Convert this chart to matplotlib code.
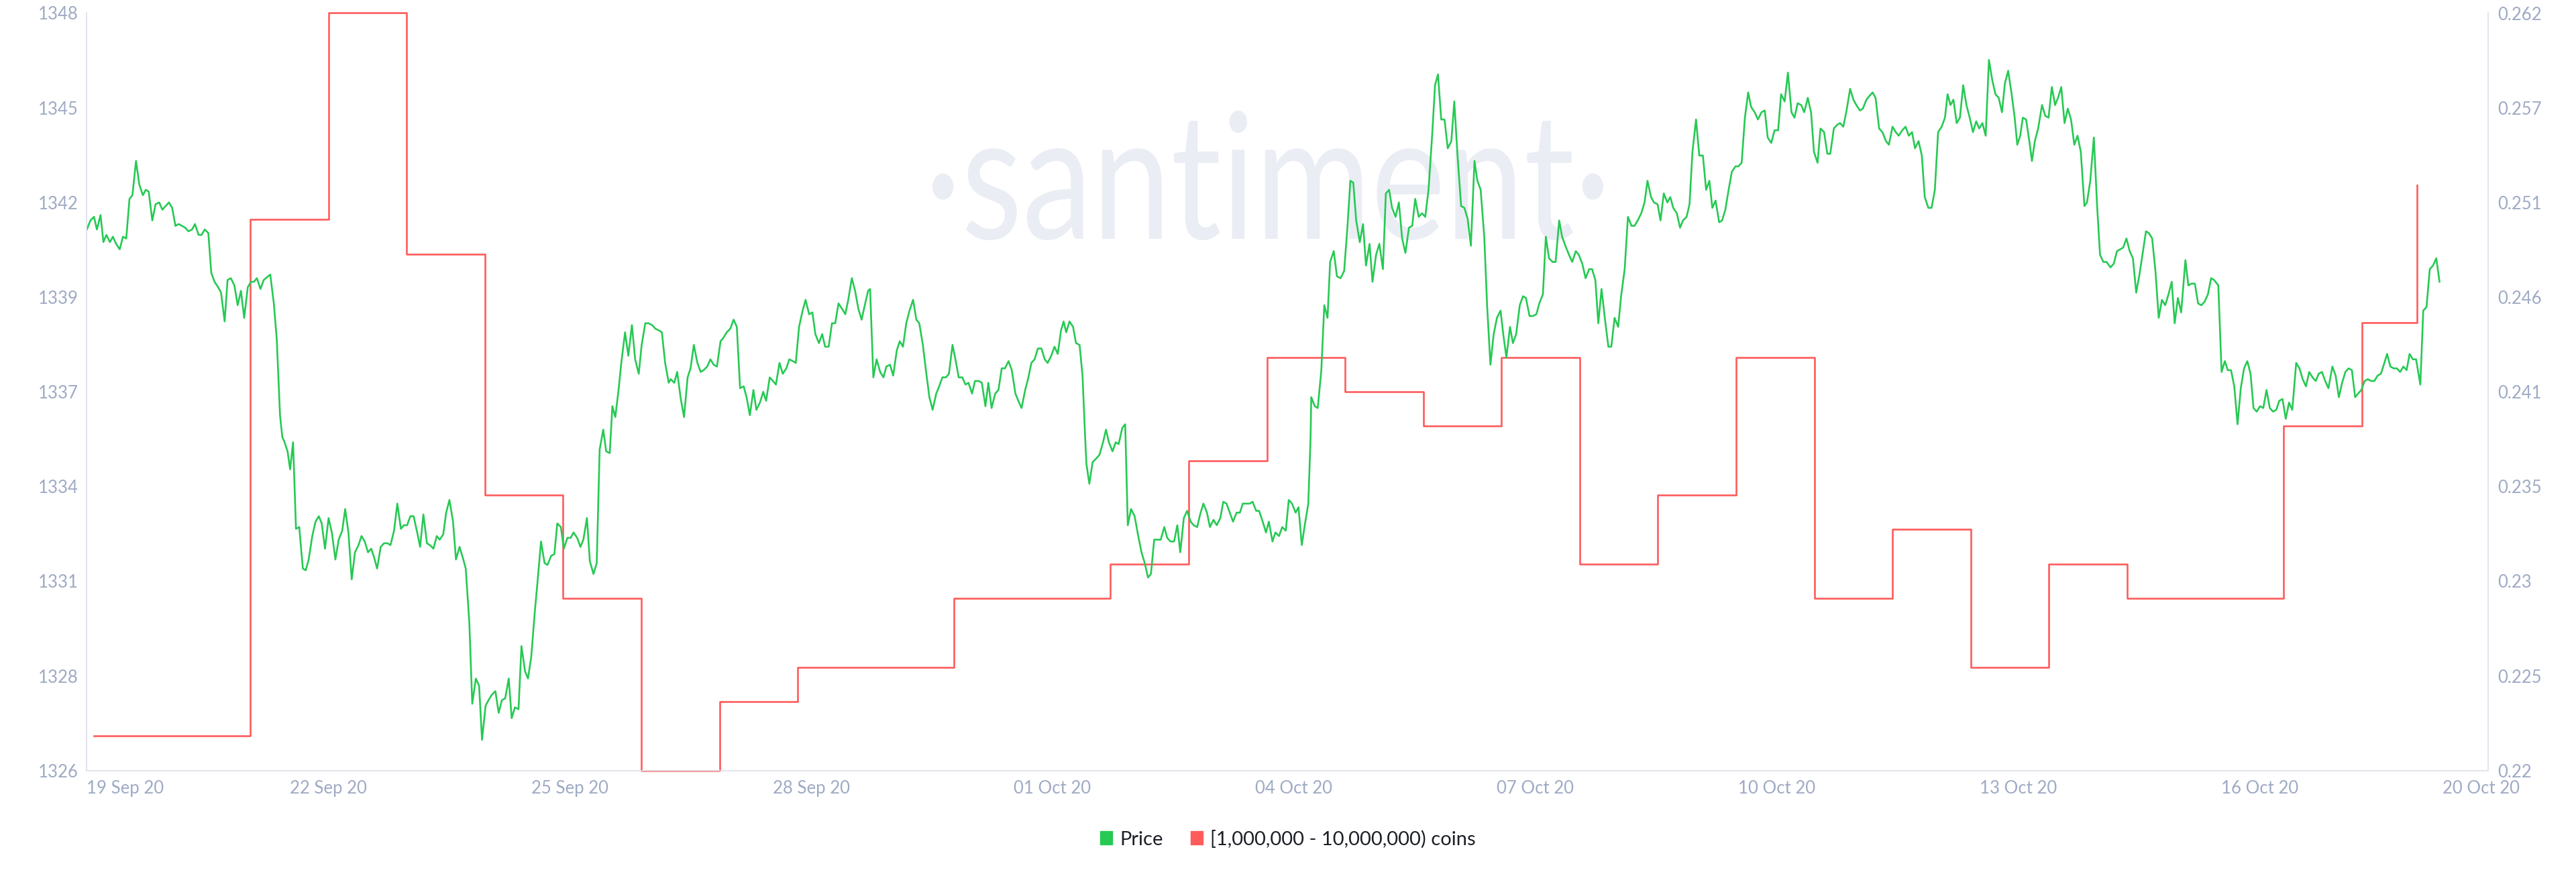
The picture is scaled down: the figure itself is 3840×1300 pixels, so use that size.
import matplotlib
matplotlib.use("Agg")
import matplotlib.pyplot as plt
from matplotlib.patches import Patch, PathPatch
from matplotlib.textpath import TextPath
from matplotlib.font_manager import FontProperties
from matplotlib.transforms import Affine2D
import numpy as np

plt.rcParams["font.family"] = ["Lato", "DejaVu Sans"]

GREEN = "#26c953"
RED = "#ff5b5b"
GREY = "#9faac4"
AXIS = "#e1e4ec"

# holders with 1,000,000 - 10,000,000 coins, one value per day (day 0 = 19 Sep 20)
holder_counts = [1327, 1327, 1342, 1348, 1341, 1334, 1331, 1326, 1328, 1329,
                 1329, 1331, 1331, 1332, 1335, 1338, 1337, 1336, 1338, 1332,
                 1334, 1338, 1331, 1333, 1329, 1332, 1331, 1331, 1336, 1339]
# last partial day: value just before and after the final update (hours)
last_update_hours = [712, 713]
last_update_counts = [1339, 1343]

# price, hours since 19 Sep 20 00:00
price_hours = [
    -2.2, -1.1, 0.0, 0.9, 2.0, 2.9, 3.8, 4.9, 5.8, 6.8, 7.9, 8.9, 9.9, 10.9, 11.8,
    12.9, 13.9, 15.0, 15.9, 16.8, 17.9, 18.9, 20.0, 21.0, 23.0, 24.0, 25.0, 26.0,
    28.0, 29.0, 30.1, 31.0, 32.1, 33.0, 34.0, 35.1, 36.0, 37.0, 38.1, 39.0, 40.1,
    41.0, 42.0, 43.1, 44.1, 45.1, 46.1, 47.2, 48.2, 49.1, 50.0, 51.1, 52.1, 54.1,
    55.2, 56.1, 57.1, 57.8, 58.5, 59.4, 60.2, 61.1, 62.0, 63.0, 64.1, 65.0, 65.9,
    67.0, 68.0, 69.0, 69.9, 70.9, 72.0, 73.0, 74.1, 75.1, 76.2, 77.1, 78.1, 79.1,
    80.1, 81.2, 82.1, 83.1, 84.1, 85.1, 86.0, 86.9, 88.0, 89.0, 90.1, 91.0, 92.1,
    93.1, 94.2, 95.1, 96.1, 97.1, 98.1, 99.2, 100.1, 101.1, 102.2, 103.1, 104.2,
    105.2, 106.1, 107.2, 108.1, 109.1, 110.2, 111.1, 112.2, 113.2, 114.1, 115.2,
    116.1, 117.2, 118.2, 119.1, 120.2, 121.1, 122.1, 123.2, 124.2, 125.2, 126.2,
    127.3, 128.2, 129.2, 130.3, 131.2, 132.3, 133.2, 134.2, 135.3, 136.2, 137.2,
    138.3, 139.2, 140.3, 141.3, 142.2, 143.3, 144.2, 145.3, 146.3, 147.2, 148.3,
    149.3, 150.2, 151.3, 152.2, 153.3, 154.3, 155.2, 156.3, 157.2, 158.3, 159.1,
    160.0, 161.0, 161.9, 163.0, 164.0, 165.1, 166.1, 167.2, 168.1, 169.2, 170.2,
    171.3, 172.3, 173.4, 174.3, 175.3, 176.4, 177.0, 178.1, 179.0, 180.1, 181.1,
    182.2, 183.1, 184.1, 185.2, 186.2, 187.1, 188.2, 189.2, 190.2, 191.2, 192.3,
    193.2, 194.2, 195.3, 196.3, 197.3, 198.3, 199.4, 200.3, 201.3, 202.4, 203.3,
    204.4, 205.4, 206.3, 207.4, 208.4, 209.3, 210.4, 211.4, 212.5, 213.4, 214.5,
    215.4, 216.4, 217.5, 218.4, 219.5, 220.5, 221.4, 222.5, 223.5, 224.4, 225.5,
    226.5, 227.5, 228.5, 229.6, 230.6, 231.5, 232.6, 233.6, 234.6, 235.6, 236.7,
    237.6, 238.2, 239.2, 240.2, 241.3, 242.3, 243.2, 244.3, 245.3, 246.4, 247.3,
    248.3, 249.3, 250.3, 251.4, 252.4, 253.3, 254.4, 255.4, 256.4, 257.4, 258.5,
    259.4, 260.4, 261.5, 262.4, 263.5, 264.5, 265.4, 266.5, 267.5, 268.4, 269.5,
    270.4, 271.5, 272.5, 273.6, 274.5, 275.5, 276.6, 277.6, 278.6, 279.6, 280.7,
    281.7, 282.8, 283.7, 284.7, 285.8, 286.8, 287.7, 288.7, 289.7, 290.8, 291.8,
    292.7, 293.8, 294.8, 295.8, 296.8, 297.6, 298.4, 299.4, 300.5, 301.4, 302.5,
    303.4, 304.2, 304.6, 305.5, 306.5, 307.6, 308.6, 309.7, 310.6, 311.5, 312.6,
    313.6, 314.5, 315.6, 316.5, 317.3, 318.3, 319.4, 320.4, 321.5, 322.5, 323.5,
    324.4, 325.4, 326.5, 327.4, 328.5, 329.4, 330.4, 331.5, 332.5, 333.4, 334.5,
    335.5, 336.6, 337.5, 338.6, 339.5, 340.5, 341.6, 342.5, 343.6, 344.6, 345.7,
    346.6, 347.6, 348.6, 349.6, 350.7, 351.7, 352.6, 353.7, 354.7, 355.6, 356.7,
    357.6, 358.7, 359.7, 360.6, 361.7, 362.6, 363.7, 364.7, 365.8, 366.7, 367.7,
    368.8, 369.7, 370.7, 371.7, 372.7, 373.4, 373.6, 374.7, 375.6, 376.7, 377.6,
    378.6, 379.4, 380.5, 381.5, 382.6, 383.7, 384.7, 385.6, 386.5, 387.4, 388.5,
    389.5, 390.4, 391.5, 392.4, 393.5, 394.5, 395.6, 396.5, 397.5, 398.4, 399.5,
    400.5, 401.5, 402.5, 403.6, 404.6, 405.5, 406.6, 407.6, 408.6, 409.6, 410.7,
    411.6, 412.5, 413.5, 414.5, 415.5, 416.6, 417.5, 418.5, 419.6, 420.6, 421.6,
    422.6, 423.7, 424.6, 425.6, 426.7, 427.6, 428.6, 429.6, 430.6, 431.7, 432.6,
    433.5, 434.6, 435.5, 436.5, 437.6, 438.6, 439.5, 440.6, 441.6, 442.7, 443.6,
    444.7, 445.6, 446.6, 447.7, 448.6, 449.7, 450.6, 451.6, 452.7, 453.7, 454.8,
    455.7, 456.8, 457.8, 458.9, 459.8, 460.8, 461.7, 462.7, 463.7, 464.8, 465.7,
    466.7, 467.8, 468.7, 469.8, 470.8, 471.9, 472.8, 473.8, 474.9, 475.9, 476.8,
    477.9, 478.8, 479.9, 480.8, 481.8, 482.9, 483.8, 484.7, 485.8, 486.8, 487.7,
    488.8, 489.7, 490.6, 491.7, 492.7, 493.8, 494.8, 495.8, 496.7, 497.7, 498.8,
    499.7, 500.7, 501.7, 502.7, 503.8, 504.7, 505.7, 506.7, 507.7, 508.6, 509.7,
    510.7, 511.8, 512.8, 513.7, 514.8, 515.8, 516.9, 517.8, 518.9, 519.9, 521.0,
    521.9, 522.9, 524.0, 524.9, 526.0, 527.0, 527.9, 529.0, 529.9, 531.0, 532.0,
    532.9, 534.0, 535.0, 535.9, 536.9, 537.9, 539.0, 540.0, 540.9, 542.0, 542.9,
    544.0, 544.9, 545.9, 546.8, 547.9, 548.9, 550.0, 550.9, 552.0, 553.0, 553.9,
    555.0, 556.0, 557.0, 558.0, 558.9, 560.0, 561.0, 561.9, 563.0, 564.0, 565.0,
    566.0, 567.1, 568.1, 568.9, 569.8, 570.7, 571.7, 572.7, 573.7, 574.7, 575.7,
    576.7, 577.7, 578.6, 579.6, 580.6, 581.6, 582.6, 583.6, 584.6, 585.6, 586.5,
    587.5, 588.5, 589.5, 590.3, 591.2, 592.0, 593.0, 594.0, 594.8, 595.7, 596.7,
    597.9, 598.9, 599.9, 600.9, 601.9, 602.8, 603.8, 604.8, 605.8, 606.8, 607.8,
    608.8, 609.8, 610.9, 611.7, 612.7, 613.8, 614.8, 615.7, 616.7, 617.7, 618.9,
    619.9, 620.9, 621.9, 622.8, 623.8, 624.8, 625.8, 626.8, 627.8, 628.8, 629.8,
    630.7, 631.7, 632.7, 633.7, 634.7, 635.7, 636.7, 637.7, 638.6, 639.6, 640.6,
    641.9, 642.8, 643.8, 644.8, 645.8, 646.8, 647.8, 648.8, 649.8, 650.7, 652.0,
    653.0, 654.0, 654.9, 655.9, 656.9, 657.9, 658.9, 659.9, 660.9, 661.9, 662.8,
    663.8, 664.8, 665.8, 666.8, 667.8, 668.8, 669.8, 670.7, 671.7, 672.7, 673.7,
    674.7, 675.9, 676.9, 677.9, 678.9, 679.9, 680.9, 681.9, 682.8, 683.8, 684.8,
    685.8, 687.0, 688.0, 689.0, 690.0, 691.0, 692.0, 693.0, 694.0, 694.9, 695.9,
    696.9, 697.9, 698.9, 699.9, 700.9, 701.9, 702.8, 703.8, 704.8, 705.8, 706.8,
    707.8, 708.8, 709.8, 710.7, 711.7, 712.7, 714.0, 714.9, 715.9, 716.9, 717.9,
    718.9, 719.9,
]
price_usd = [
    .2500, .2505, .2507, .2500, .2508, .2493, .2497, .2493, .2496, .2492, .2489, .2496, .2495, .2517, .2519,
    .2538, .2525, .2519, .2522, .2521, .2505, .2514, .2515, .2511, .2515, .2512, .2502, .2503,
    .2501, .2499, .2500, .2503, .2497, .2497, .2500, .2498, .2476, .2471, .2468, .2465, .2449,
    .2472, .2473, .2469, .2458, .2466, .2451, .2468, .2471, .2471, .2473, .2467, .2472, .2475,
    .2459, .2439, .2397, .2385, .2382, .2377, .2367, .2382, .2334, .2335, .2312, .2311, .2317,
    .2330, .2338, .2341, .2337, .2323, .2340, .2332, .2317, .2328, .2333, .2345, .2332, .2306,
    .2321, .2325, .2330, .2327, .2321, .2323, .2318, .2312, .2324, .2326, .2326, .2325, .2333,
    .2348, .2334, .2336, .2336, .2341, .2341, .2332, .2324, .2342, .2326, .2325, .2323,
    .2330, .2328, .2331, .2343, .2350, .2338, .2317, .2324, .2318, .2312, .2282,
    .2237, .2251, .2247, .2217, .2236, .2239, .2242, .2244, .2232, .2239, .2240,
    .2251, .2229, .2235, .2234, .2269, .2255, .2251, .2263, .2288, .2306, .2327,
    .2315, .2314, .2319, .2320, .2337, .2335, .2323, .2329, .2329, .2332, .2329,
    .2324, .2328, .2340, .2316, .2309, .2315, .2378, .2389, .2377, .2376, .2402,
    .2396, .2411, .2427, .2443, .2430, .2447, .2428, .2420, .2436, .2448, .2448,
    .2447, .2445, .2444, .2443, .2426, .2415, .2417, .2415, .2421, .2406, .2396,
    .2418, .2423, .2436, .2426, .2421, .2422, .2424, .2428, .2425, .2424, .2438,
    .2440, .2443, .2445, .2450, .2446, .2412, .2413, .2407, .2397, .2411, .2400,
    .2404, .2410, .2405, .2418, .2416, .2414, .2426, .2420, .2423, .2428, .2427,
    .2426, .2446, .2455, .2461, .2453, .2454, .2442, .2437, .2442, .2435, .2435,
    .2448, .2448, .2459, .2456, .2453, .2461, .2473, .2466, .2456, .2450, .2459,
    .2466, .2467, .2418, .2428, .2421, .2418, .2424, .2425, .2419, .2433, .2438,
    .2435, .2448, .2455, .2461, .2450, .2448, .2436, .2421, .2407, .2400, .2409,
    .2413, .2418, .2418, .2420, .2436, .2427, .2418, .2418, .2414, .2415, .2409,
    .2416, .2416, .2415, .2402, .2415, .2401, .2409, .2411, .2423, .2423, .2427,
    .2422, .2409, .2405, .2401, .2411, .2418, .2426, .2428, .2434, .2434, .2428,
    .2426, .2430, .2435, .2431, .2444, .2449, .2443, .2449, .2446, .2437, .2436,
    .2419, .2385, .2370, .2359, .2371, .2373, .2375, .2382, .2389, .2382, .2377,
    .2382, .2381, .2390, .2392, .2336, .2345, .2341, .2331, .2321, .2315, .2307,
    .2309, .2328, .2328, .2328, .2335, .2329, .2327, .2327, .2336, .2321, .2340,
    .2344, .2338, .2336, .2335, .2342, .2348, .2343, .2335, .2339, .2336, .2340,
    .2349, .2348, .2343, .2338, .2343, .2343, .2348, .2348, .2348, .2349, .2344,
    .2344, .2338, .2332, .2338, .2327, .2332, .2330, .2335, .2333, .2350, .2348,
    .2343, .2346, .2325, .2337, .2348, .2385, .2407, .2402, .2401, .2422, .2458,
    .2451, .2482, .2488, .2474, .2473, .2477, .2501, .2527, .2526, .2505, .2493,
    .2503, .2480, .2492, .2471, .2486, .2492, .2478, .2520, .2522, .2512, .2507,
    .2515, .2495, .2487, .2501, .2502, .2517, .2507, .2509, .2507, .2522, .2552,
    .2580, .2586, .2561, .2561, .2545, .2549, .2571, .2541, .2513, .2512, .2506,
    .2491, .2538, .2527, .2522, .2496, .2457, .2425, .2442, .2451, .2455, .2441,
    .2429, .2446, .2437, .2442, .2458, .2463, .2462, .2452, .2452, .2453, .2459,
    .2464, .2496, .2484, .2482, .2482, .2505, .2496, .2491, .2486, .2482, .2488,
    .2486, .2481, .2473, .2478, .2478, .2472, .2448, .2467, .2451, .2435, .2435,
    .2451, .2446, .2463, .2478, .2507, .2502, .2502, .2505, .2509, .2515, .2527,
    .2518, .2515, .2514, .2505, .2520, .2515, .2518, .2512, .2509, .2501, .2505,
    .2507, .2514, .2543, .2561, .2541, .2541, .2522, .2527, .2512, .2516, .2504,
    .2505, .2511, .2522, .2532, .2535, .2535, .2537, .2562, .2576, .2568, .2565,
    .2561, .2565, .2566, .2551, .2548, .2555, .2555, .2575, .2571, .2587, .2565,
    .2562, .2570, .2569, .2565, .2573, .2565, .2543, .2537, .2556, .2554, .2542,
    .2542, .2556, .2558, .2559, .2557, .2566, .2578, .2572, .2569, .2566, .2567,
    .2572, .2574, .2576, .2573, .2556, .2554, .2549, .2547, .2557, .2554, .2552,
    .2555, .2557, .2552, .2554, .2545, .2549, .2541, .2518, .2512, .2512, .2522,
    .2554, .2557, .2562, .2575, .2569, .2572, .2559, .2562, .2580, .2569, .2562,
    .2554, .2560, .2556, .2559, .2552, .2594, .2583, .2575, .2573, .2565, .2581,
    .2588, .2576, .2562, .2547, .2552, .2562, .2561, .2549, .2538, .2549, .2556,
    .2569, .2563, .2562, .2579, .2569, .2573, .2579, .2559, .2567, .2561, .2547,
    .2552, .2543, .2513, .2515, .2527, .2551, .2513, .2486, .2482, .2482, .2479,
    .2481, .2488, .2489, .2490, .2495, .2488, .2484, .2465, .2475, .2487, .2499,
    .2498, .2495, .2477, .2451, .2461, .2458, .2464, .2471, .2448, .2462, .2454,
    .2483, .2469, .2470, .2470, .2459, .2458, .2460, .2464, .2473, .2472, .2469,
    .2421, .2427, .2422, .2422, .2413, .2392, .2412, .2423, .2427, .2420, .2401,
    .2399, .2402, .2401, .2411, .2401, .2399, .2400, .2405, .2406, .2395, .2404,
    .2400, .2426, .2423, .2417, .2413, .2421, .2418, .2416, .2420, .2421, .2416,
    .2412, .2424, .2419, .2407, .2415, .2421, .2423, .2422, .2407, .2409, .2411,
    .2416, .2417, .2416, .2416, .2419, .2420, .2425, .2431, .2424, .2423, .2423,
    .2421, .2424, .2422, .2431, .2428, .2428, .2414, .2455, .2457, .2478, .2480,
    .2484, .2471,
]

left_ticks = ["1326", "1328", "1331", "1334", "1337", "1339", "1342", "1345", "1348"]
right_ticks = ["0.22", "0.225", "0.23", "0.235", "0.241", "0.246", "0.251", "0.257", "0.262"]
date_labels = ["19 Sep 20", "22 Sep 20", "25 Sep 20", "28 Sep 20", "01 Oct 20", "04 Oct 20",
               "07 Oct 20", "10 Oct 20", "13 Oct 20", "16 Oct 20", "20 Oct 20"]


def add_watermark(fig, ax):
    # narrow, pale "·santiment·" behind the lines, squeezed to the logo's width
    W, H = fig.bbox.width, fig.bbox.height
    tp = TextPath((0, 0), "\u00b7santiment\u00b7", size=262,
                  prop=FontProperties(family="Lato"))
    ext = tp.get_extents()
    sx = 1000 / ext.width
    tr = (Affine2D().translate(-ext.x0, 0).scale(sx, 1)
          .translate(1390, H - 356).scale(1 / W, 1 / H) + fig.transFigure)
    patch = PathPatch(tp, transform=tr, facecolor="#eaedf4", edgecolor="none",
                      zorder=1, clip_on=False)
    ax.add_artist(patch)


def main():
    fig = plt.figure(figsize=(38.4, 13), dpi=100)
    ax = fig.add_axes([0.0337, 0.1164, 0.9323, 0.8686])
    ax2 = ax.twinx()

    # step series: one point per day, plus the last partial day
    hours = list(np.arange(len(holder_counts)) * 24) + last_update_hours
    counts = holder_counts + last_update_counts
    ax.plot(hours, counts, drawstyle="steps-post", color=RED, lw=1.9,
            zorder=3, clip_on=False)
    ax2.plot(price_hours, price_usd, color=GREEN, lw=1.9, solid_joinstyle="round")

    x_start, x_end = -2.2, 734.9
    ax.set_xlim(x_start, x_end)
    ax.set_ylim(1326, 1348)
    ax2.set_ylim(0.22, 0.262)

    ax.set_yticks(np.linspace(1326, 1348, 9))
    ax.set_yticklabels(left_ticks)
    ax2.set_yticks(np.linspace(0.22, 0.262, 9))
    ax2.set_yticklabels(right_ticks)

    tick_hours = list(x_start + 74.1 * np.arange(10)) + [x_end - 2.2]
    ax.set_xticks(tick_hours)
    ax.set_xticklabels(date_labels)
    ax.get_xticklabels()[0].set_ha("left")

    for a in (ax, ax2):
        a.tick_params(length=0, labelsize=18.5, labelcolor=GREY)
        a.spines["top"].set_visible(False)
        for side in ("left", "right", "bottom"):
            a.spines[side].set_color(AXIS)
            a.spines[side].set_linewidth(1.2)
    ax.tick_params(axis="y", pad=9)
    ax2.tick_params(axis="y", pad=10)
    ax.tick_params(axis="x", pad=10)

    add_watermark(fig, ax)

    handles = [Patch(color=GREEN, label="Price"),
               Patch(color=RED, label="[1,000,000 - 10,000,000) coins")]
    fig.legend(handles=handles, loc="center", bbox_to_anchor=(0.5, 0.0377), ncol=2,
               frameon=False, fontsize=21, handlelength=0.62, handleheight=0.68,
               handletextpad=0.38, columnspacing=1.4, labelcolor="#1c1f26")

    fig.savefig("out.png", dpi=100, facecolor="white")


if __name__ == "__main__":
    main()
